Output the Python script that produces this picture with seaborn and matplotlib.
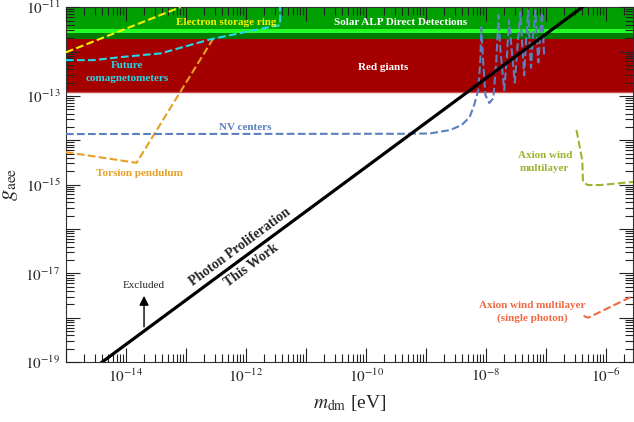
import matplotlib
matplotlib.use('Agg')
import matplotlib.pyplot as plt
import matplotlib.ticker as mticker
import seaborn as sns
import pandas as pd

# axis range (dark matter mass in eV)
m_lim = [1e-15, 2.8e-6]
g_lim = [1e-19, 1e-11]

# shaded exclusion bands (g_aee)
solar_band = [3.2e-12, 1e-11]
solar_edge = [2.6e-12, 3.2e-12]
solar_low = [1.9e-12, 2.6e-12]
red_giants = [1.23e-13, 1.9e-12]

# this work, g ~ m
pp_m = [1e-15, 1e-6]
pp_g = [2.5e-20, 2.5e-11]

# projections / other bounds
esr_m = [1e-15, 8.1e-14]
esr_g = [9.6e-13, 1e-11]

comag_m = [1e-15, 2.9e-15, 8.3e-15, 3.8e-14, 2.6e-13, 2.8e-12, 3.7e-12, 3.7e-12]
comag_g = [6.4e-13, 6.4e-13, 7.5e-13, 9.1e-13, 1.9e-12, 3.7e-12, 3.9e-12, 1e-11]

torsion_m = [1e-15, 1.5e-14, 2.8e-13]
torsion_g = [5.4e-15, 3.1e-15, 1.9e-12]

nv_m = [1e-15, 3.6e-10, 1.15e-9, 2.5e-9, 3.9e-9, 5.3e-9, 6.3e-9, 7.4e-9, 8.0e-9,
        8.3e-9, 8.9e-9, 9.7e-9, 1.13e-8, 1.32e-8, 1.48e-8, 1.6e-8, 1.73e-8,
        2.0e-8, 2.2e-8, 2.4e-8, 2.7e-8, 3.0e-8, 3.3e-8, 3.7e-8, 4.0e-8,
        4.3e-8, 4.6e-8, 5.0e-8, 5.3e-8, 5.6e-8, 6.0e-8, 6.6e-8, 7.0e-8,
        7.4e-8, 7.9e-8, 8.5e-8, 9.3e-8]
nv_g = [1.38e-14, 1.4e-14, 1.42e-14, 1.7e-14, 2.2e-14, 3.3e-14, 6.2e-14, 1.35e-13, 6.4e-13,
        3.5e-12, 6.4e-13, 1.05e-13, 6.9e-14, 8.9e-14, 6.4e-13, 6.6e-12, 1.07e-12,
        1.35e-13, 6.4e-13, 5.1e-12, 9e-13, 2.0e-13, 1.1e-12, 7.7e-12, 1.4e-12,
        2.9e-13, 1.6e-12, 8.5e-12, 1.6e-12, 4.3e-13, 2.0e-12, 8.5e-12, 2.0e-12,
        5.7e-13, 2.0e-12, 7.7e-12, 7.4e-13]

wind_m = [3.2e-7, 4.0e-7, 4.1e-7, 4.9e-7, 8e-7, 2.8e-6]
wind_g = [1.7e-14, 3.5e-15, 1.15e-15, 9.8e-16, 9.8e-16, 1.15e-15]

single_m = [4.2e-7, 5e-7, 2.8e-6]
single_g = [1.1e-18, 1e-18, 3.1e-18]

# tick labels only every second decade
x_label_exp = [-14, -12, -10, -8, -6]
y_label_exp = [-19, -17, -15, -13, -11]


def set_aestetics():
    """Serif look with inward ticks on all four sides."""
    sns.set_style('ticks')
    plt.rcParams['font.family'] = ['Liberation Serif', 'DejaVu Serif']
    plt.rcParams['mathtext.fontset'] = 'stix'
    plt.rcParams['axes.edgecolor'] = '#333333'
    plt.rcParams['axes.linewidth'] = 0.8


def dashed(ax, m, g, color, lw=1.5):
    df = pd.DataFrame({'m': m, 'g': g})
    sns.lineplot(data=df, x='m', y='g', ax=ax, sort=False, estimator=None,
                 color=color, lw=lw, ls='--', zorder=4)


set_aestetics()
fig = plt.figure(figsize=(6.34, 4.22), dpi=100)
ax = fig.add_axes([0.104, 0.142, 0.8945, 0.841])
ax.set_xscale('log')
ax.set_yscale('log')

# bands
ax.fill_between(m_lim, *red_giants, color='#a50000', lw=0, zorder=1)
ax.plot(m_lim, [red_giants[0]] * 2, color='#c85050', lw=1, zorder=1)
ax.fill_between(m_lim, *solar_low, color='#007a00', lw=0, zorder=1)
ax.fill_between(m_lim, *solar_edge, color='#22ff22', lw=0, zorder=1)
ax.fill_between(m_lim, *solar_band, color='#00a000', lw=0, zorder=1)

# curves
dashed(ax, torsion_m, torsion_g, '#e5a025')
dashed(ax, nv_m, nv_g, '#5b7fbf')
dashed(ax, esr_m, esr_g, '#f5f000')
dashed(ax, comag_m, comag_g, '#22d8e8')
dashed(ax, wind_m, wind_g, '#9ab52e')
dashed(ax, single_m, single_g, '#f06a45')
sns.lineplot(x=pp_m, y=pp_g, ax=ax, color='black', lw=2.3, zorder=5)

# labels on the plot
bold = dict(fontsize=8, fontweight='bold', ha='center', va='center', zorder=6)
ax.text(4.6e-13, 4.6e-12, 'Electron storage ring', color='#f5f000', **bold)
ax.text(3.8e-10, 4.6e-12, 'Solar ALP Direct Detections', color='white', **bold)
ax.text(1.9e-10, 4.3e-13, 'Red giants', color='white', **bold)
ax.text(1.04e-14, 3.5e-13, 'Future\ncomagnetometers', color='#22d8e8',
        linespacing=1.6, **bold)
ax.text(9.8e-13, 1.9e-14, 'NV centers', color='#5b7fbf', **bold)
ax.text(1.65e-14, 1.8e-15, 'Torsion pendulum', color='#e5a025', **bold)
ax.text(9.5e-8, 3.2e-15, 'Axion wind\nmultilayer', color='#9ab52e',
        linespacing=1.5, **bold)
ax.text(5.9e-8, 1.35e-18, 'Axion wind multilayer\n(single photon)',
        color='#f06a45', linespacing=1.5, **bold)
ax.text(8.1e-13, 3.9e-17, 'Photon Proliferation', fontsize=10,
        fontweight='bold', rotation=36.4, rotation_mode='anchor',
        ha='center', va='center')
ax.text(1.23e-12, 1.55e-17, 'This Work', fontsize=10, fontweight='bold',
        rotation=36.4, rotation_mode='anchor', ha='center', va='center')
ax.annotate('', xy=(2e-14, 3.6e-18), xytext=(2e-14, 5.4e-19),
            arrowprops=dict(arrowstyle='-|>', color='black', lw=1,
                            mutation_scale=14))
ax.text(2e-14, 5.2e-18, 'Excluded', fontsize=8, ha='center', va='center')

# axes
ax.set_xlim(m_lim)
ax.set_ylim(g_lim)
ax.set_xticks([10.0 ** k for k in range(-15, -5)])
ax.set_xticklabels(['$10^{%d}$' % k if k in x_label_exp else ''
                    for k in range(-15, -5)])
ax.set_yticks([10.0 ** k for k in range(-19, -10)])
ax.set_yticklabels(['$10^{%d}$' % k if k in y_label_exp else ''
                    for k in range(-19, -10)])
for axis in (ax.xaxis, ax.yaxis):
    axis.set_minor_locator(mticker.LogLocator(base=10, subs=range(2, 10),
                                              numticks=30))
    axis.set_minor_formatter(mticker.NullFormatter())
ax.tick_params(which='both', direction='in', top=True, right=True,
               labelsize=11, width=0.8, color='#222222', zorder=7)
ax.tick_params(which='major', length=10, pad=4)
ax.tick_params(which='minor', length=5.5)
ax.set_xlabel(r'$m_{\rm dm}$ [eV]', fontsize=14, labelpad=6)
ax.set_ylabel(r'$g_{\rm aee}$', fontsize=16, labelpad=4)
ax.set_axisbelow(False)

plt.savefig('out.png', dpi=100)
